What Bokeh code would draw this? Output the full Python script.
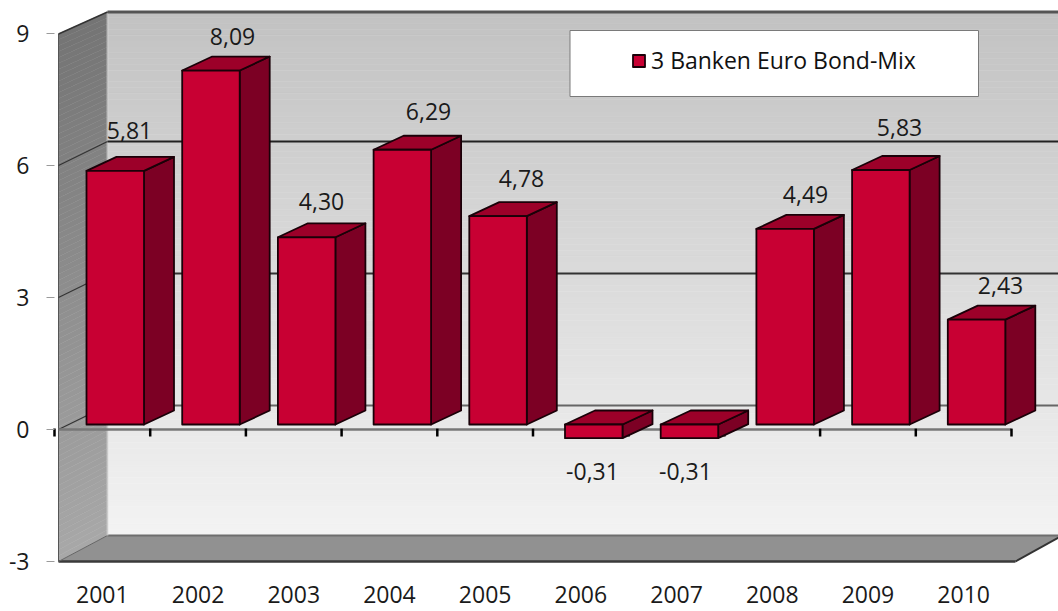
from bokeh.plotting import figure
from bokeh.models import Range1d, FixedTicker, Legend, LegendItem, ColumnDataSource
from bokeh.core.properties import value
from bokeh.embed import file_html
from bokeh.resources import INLINE

# ---- data ----
years = ["2001","2002","2003","2004","2005","2006","2007","2008","2009","2010"]
values = [5.81, 8.09, 4.30, 6.29, 4.78, -0.31, -0.31, 4.49, 5.83, 2.43]
labels = ["5,81","8,09","4,30","6,29","4,78","-0,31","-0,31","4,49","5,83","2,43"]
y_ticks = [-3, 0, 3, 6, 9]
series_name = "3 Banken Euro Bond-Mix"

# ---- layout (pixels of the picture -> data units) ----
W, H = 1058, 611
CAT = 95.7; UNIT = 44.0; X0 = 54.0; Y0 = 429.0
FRAME_L, FRAME_B = 46, 566
def X(px): return (px - X0) / CAT
def Y(px): return (Y0 - px) / UNIT
FONT = "Open Sans"

p = figure(width=W, height=H, output_backend="svg", toolbar_location=None,
           x_range=Range1d(X(FRAME_L), X(W)), y_range=Range1d(Y(FRAME_B), Y(0)),
           min_border_left=FRAME_L, min_border_right=0, min_border_top=0,
           min_border_bottom=H - FRAME_B, outline_line_color=None,
           background_fill_color="white", border_fill_color="white",
           margin=(0, 0, 0, 0))
p.grid.visible = False

# axes
p.yaxis.ticker = FixedTicker(ticks=y_ticks)
p.yaxis.major_label_overrides = {t: str(t) for t in y_ticks}
p.yaxis.axis_line_color = None
p.yaxis.major_tick_in = 8; p.yaxis.major_tick_out = 0
p.yaxis.minor_tick_line_color = None
p.yaxis.major_tick_line_color = "#9a9a9a"
p.yaxis.major_label_standoff = 17
p.xaxis.ticker = FixedTicker(ticks=[i + 0.5 for i in range(len(years))])
p.xaxis.major_label_overrides = {i + 0.5: y for i, y in enumerate(years)}
p.xaxis.axis_line_color = None
p.xaxis.major_tick_line_color = None
p.xaxis.minor_tick_line_color = None
p.xaxis.major_tick_in = 0; p.xaxis.major_tick_out = 0
p.xaxis.major_label_standoff = 19
for ax in (p.xaxis, p.yaxis):
    ax.major_label_text_font = FONT
    ax.major_label_text_font_size = "23px"
    ax.major_label_text_color = "#1a1a1a"

# depth of the chart box
WALL_L, WALL_R, DEPTH = 58, 107, 49
TOP_F, TOP_B, BOT_F, BOT_B = 33.5, 11.5, 561, 535

def lerp(a, b, t): return a + (b - a) * t
def grey(v):
    v = int(round(v)); return f"#{v:02x}{v:02x}{v:02x}"

# back wall gradient
N = 90
xs, ys, cs = [], [], []
for k in range(N):
    t0, t1 = k / N, (k + 1) / N
    y0, y1 = lerp(TOP_B, BOT_B, t0), lerp(TOP_B, BOT_B, t1)
    xs.append([X(WALL_R), X(W), X(W), X(WALL_R)])
    ys.append([Y(y0), Y(y0), Y(y1), Y(y1)])
    cs.append(grey(lerp(0xC2, 0xF3, (t0 + t1) / 2)))
p.patches(xs, ys, fill_color=cs, line_color=cs, line_width=0.5)

# left wall gradient
xs, ys, cs = [], [], []
for k in range(N):
    t0, t1 = k / N, (k + 1) / N
    xs.append([X(WALL_L), X(WALL_R), X(WALL_R), X(WALL_L)])
    ys.append([Y(lerp(TOP_F, BOT_F, t0)), Y(lerp(TOP_B, BOT_B, t0)),
               Y(lerp(TOP_B, BOT_B, t1)), Y(lerp(TOP_F, BOT_F, t1))])
    cs.append(grey(lerp(0x74, 0xA8, (t0 + t1) / 2)))
p.patches(xs, ys, fill_color=cs, line_color=cs, line_width=0.5)

# floor
p.patch([X(WALL_L), X(WALL_R), X(W), X(W), X(1015)],
        [Y(BOT_F), Y(BOT_B), Y(BOT_B), Y(537), Y(BOT_F)],
        fill_color="#919191", line_color=None)
p.line([X(WALL_R), X(W)], [Y(BOT_B), Y(BOT_B)], line_color="#6e6e6e", line_width=2)
p.line([X(WALL_L), X(1015)], [Y(BOT_F), Y(BOT_F)], line_color="#3a3a3a", line_width=2.5)
p.line([X(1015), X(W)], [Y(BOT_F), Y(537)], line_color="#333333", line_width=2)
p.line([X(WALL_L), X(WALL_R)], [Y(BOT_F), Y(BOT_B)], line_color="#666666", line_width=1)

# vertical edges
p.line([X(WALL_R), X(WALL_R)], [Y(TOP_B), Y(BOT_B)], line_color="#d8d8d8", line_width=2, line_alpha=0.6)
p.line([X(WALL_L), X(WALL_L)], [Y(TOP_F), Y(BOT_F)], line_color="#555555", line_width=1)

# top edge
p.line([X(WALL_R), X(W)], [Y(TOP_B), Y(TOP_B)], line_color="#555555", line_width=3)
p.line([X(WALL_L), X(WALL_R)], [Y(TOP_F), Y(TOP_B)], line_color="#333333", line_width=1.5)

# grid on the back wall and left wall
dy_wall = 24 / UNIT
for t, col in zip(y_ticks[1:-1], ["#666666", "#333333", "#222222"]):
    p.line([X(WALL_R), X(W)], [t + dy_wall, t + dy_wall], line_color=col, line_width=2)
    p.line([X(WALL_L), X(WALL_R)], [t, t + dy_wall], line_color="#333333", line_width=1.2)

# category axis line and ticks on the zero plane
p.line([X(WALL_L), len(years)], [0, 0], line_color="#777777", line_width=2.5)
p.segment(x0=list(range(len(years) + 1)), x1=list(range(len(years) + 1)),
          y0=[0.02] * (len(years) + 1), y1=[-7 / UNIT] * (len(years) + 1),
          line_color="black", line_width=2.5)

# bars
B_LEFT = 32 / CAT; B_W = 57.5 / CAT
D_X = 30 / CAT; D_Y = 14 / UNIT
BASE = 5 / UNIT; POS_LIFT = 3 / UNIT
lefts = [i + B_LEFT for i in range(len(values))]
rights = [l + B_W for l in lefts]
tops = [v + POS_LIFT if v > 0 else BASE for v in values]
bots = [BASE if v > 0 else v + BASE for v in values]

OUT = dict(line_color="#1a0008", line_width=1.8, line_join="round")
p.patches([[r, r + D_X, r + D_X, r] for r in rights],
          [[b, b + D_Y, t + D_Y, t] for b, t in zip(bots, tops)],
          fill_color="#7c0024", **OUT)
p.patches([[l, l + D_X, r + D_X, r] for l, r in zip(lefts, rights)],
          [[t, t + D_Y, t + D_Y, t] for t in tops],
          fill_color="#9c0029", **OUT)
front = p.quad(left=lefts, right=rights, bottom=bots, top=tops, fill_color="#c80033", **OUT)

# value labels
lab_x = [129, 232, 321, 428, 521, 592, 685, 805, 899, 1000]
lab_y = [130, 36, 201, 111, 178, 471, 471, 194, 127, 285]
lab_src = ColumnDataSource(dict(x=[X(a) for a in lab_x], y=[Y(b) for b in lab_y], t=labels))
p.text("x", "y", text="t", source=lab_src, text_align="center", text_baseline="middle",
       text_font=value(FONT), text_font_size="23px", text_color="#1a1a1a")

# legend box
p.quad(left=[X(569.5)], right=[X(978)], top=[Y(30)], bottom=[Y(96)],
       fill_color="white", line_color="#7a7a7a", line_width=1)
legend = Legend(items=[LegendItem(label=series_name, renderers=[front])],
                location=(631 - FRAME_L, FRAME_B - 76), orientation="vertical",
                background_fill_alpha=0, border_line_color=None, padding=0, margin=0,
                glyph_width=15, glyph_height=15, label_standoff=5, spacing=0,
                label_text_font=FONT, label_text_font_size="23px", label_text_color="#111111",
                label_height=24)
p.add_layout(legend)

open("out.html", "w").write(file_html(p, INLINE))
